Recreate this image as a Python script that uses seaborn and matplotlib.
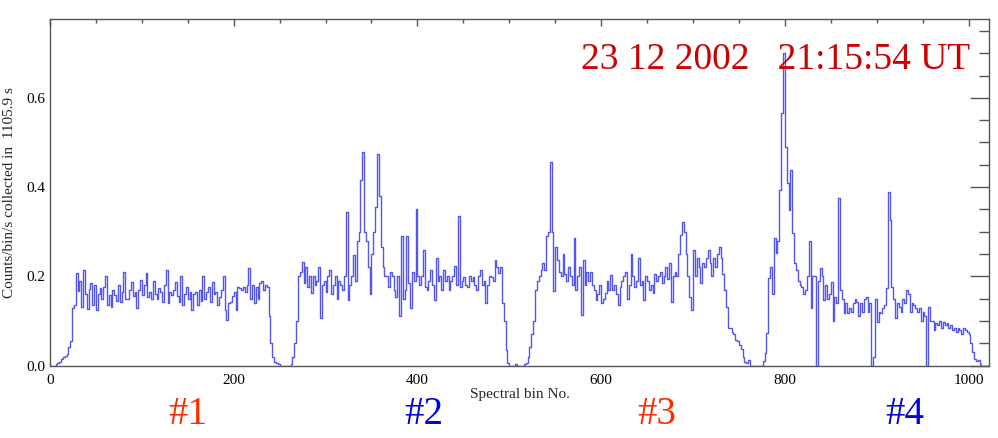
import numpy as np
import pandas as pd
import matplotlib
matplotlib.use("Agg")
import matplotlib.pyplot as plt
from matplotlib.ticker import MultipleLocator, FormatStrFormatter
import seaborn as sns

# counts/bin/s, one value per 2 spectral bins
# channel #1 : bins 0 - 250
ch1 = [0, 0, 0, .003, .006, .008, .015, .02, .022, .026, .042, .055, .13, .135,
       .207, .167, .19, .132, .215, .16, .127, .172, .186, .136, .18, .124, .16, .173, .15, .177,
       .2, .136, .158, .132, .17, .158, .145, .18, .143, .165, .21, .15, .15, .17, .188, .155,
       .165, .13, .17, .192, .158, .18, .207, .154, .165, .15, .19, .16, .15, .173, .165, .143,
       .18, .214, .14, .165, .158, .17, .188, .155, .143, .2, .136, .16, .177, .15, .165, .124,
       .16, .165, .136, .17, .145, .2, .15, .165, .177, .143, .188, .16, .165, .136, .154, .17,
       .2, .124, .102, .14, .143, .155, .165, .124, .177, .173, .17, .175, .165, .18, .218, .15,
       .18, .14, .175, .15, .185, .19, .17, .18,
       .177, .11, .05, .02, .008, .005, .003, 0]
# channel #2 : bins 252 - 510
ch2 = [0, 0, 0, 0, 0, .003, .02, .05, .1, .2,
       .21, .233, .185, .22, .177, .2, .162, .2, .18, .19, .22, .106, .18, .19, .165, .2, .214,
       .16, .18, .2, .15, .19, .18, .17, .2,
       .345, .147, .18, .2, .248, .19, .28, .3, .416, .479, .3, .28, .22, .16, .25, .3, .356,
       .474, .38, .266, .22, .2,
       .2, .177, .21, .2, .17, .154, .2, .11, .29, .15, .17, .29, .184, .13, .21, .19, .35, .2,
       .18, .2, .26, .175, .17, .19, .214, .18, .147, .24, .19, .2, .17, .214, .19, .2, .169,
       .19, .2, .222, .18, .335, .177, .19, .199, .18, .177, .2, .19, .199, .18, .169, .2,
       .214, .18, .19, .14, .18, .2, .199, .19, .236, .22, .207, .22,
       .14, .1, .035, .005, 0, 0, 0, .003, 0, 0]
# channel #3 : bins 512 - 772
ch3 = [0, 0, .003, .005, .02, .042, .07, .1, .17, .19, .2, .215, .23,
       .215, .29, .3, .457, .3, .166, .266, .236, .21, .2, .251, .206,
       .19, .22, .2, .18, .285, .169, .2, .22, .113, .236, .18, .21, .19, .209, .18, .17, .147,
       .16, .18, .139, .15, .162, .19, .17, .203, .17, .18, .16, .136, .175, .19, .2, .21, .15,
       .18, .25, .2, .177, .19, .24, .18, .19, .147, .2, .19, .17, .18, .162, .206, .19, .2,
       .21, .185, .2, .22, .195, .229, .143, .2, .21,
       .2, .25, .293, .322, .3, .251, .2, .154, .124, .259, .2, .24, .22, .184, .23, .22, .24,
       .259, .23, .2, .24, .22, .25, .266, .24, .206, .17, .132, .083, .085, .075, .07, .057,
       .055, .045, .038, .02, .008, .005, .012, 0, 0, 0, 0, 0, 0]
# channel #4 : bins 774 - 1022
ch4 = [0, .01, .028, .073, .196, .22, .16, .286, .252, .28, .393, .566, .7, .49, .408, .349,
       .438, .297, .23, .214, .19, .18, .177, .16, .17, .2, .28, .13, .2, .2, 0, .19, .218, .2,
       .147, .18, .15, .16, .188, .1, .154, .14, .375, .17, .15, .117, .14, .117, .13, .12, .14,
       .15, .143, .11, .14, .12, .15, .154, .12, .14, 0, .02, .15, .098, .12, .117, .13, .135,
       .173, .39, .326, .177, .15, .106, .14, .132, .12, .15, .14, .17, .16, .12, .14, .135,
       .13, .12, .13, .1, .12, .11, 0, .132, .1, .1, .08, .095, .09, .1, .085, .098, .09, .095,
       .085, .09, .08, .085, .075, .085, .08, .07, .085, .08, .075, .07, .05, .031, .015, .01,
       .012, .003, 0, 0, 0, 0, 0]

counts = ch1 + ch2 + ch3 + ch4
bins = np.arange(len(counts)) * 2

channel_names = ["#1", "#2", "#3", "#4"]
channel_pos = [150, 407, 660, 930]
channel_colors = ["#ff2a00", "#0000e0", "#ff2a00", "#0000e0"]
stamp = "23 12 2002   21:15:54 UT"

df = pd.DataFrame({"bin": bins, "counts": counts})

sns.set_theme(style="white")
plt.rcParams["font.family"] = ["Liberation Serif", "DejaVu Serif"]

fig = plt.figure(figsize=(9.98, 4.38), dpi=100)
ax = fig.add_axes([0.0501, 0.1655, 0.9412, 0.7904])

sns.lineplot(data=df, x="bin", y="counts", drawstyle="steps-post",
             color="#5555f0", lw=1.0, ax=ax)

ax.set_xlim(0, 1022.6)
ax.set_ylim(0, 0.776)
ax.xaxis.set_major_locator(MultipleLocator(200))
ax.xaxis.set_minor_locator(MultipleLocator(50))
ax.yaxis.set_major_locator(MultipleLocator(0.2))
ax.yaxis.set_minor_locator(MultipleLocator(0.05))
ax.yaxis.set_major_formatter(FormatStrFormatter("%.1f"))

ax.tick_params(which="both", direction="in", top=True, right=True, colors="#555555",
               labelcolor="black", labelsize=11, width=1)
ax.tick_params(axis="y", which="major", length=13.7, pad=3)
ax.tick_params(axis="y", which="minor", length=7)
ax.tick_params(axis="x", which="major", length=5, pad=6)
ax.tick_params(axis="x", which="minor", length=3)
for s in ax.spines.values():
    s.set_color("#555555")
    s.set_linewidth(1)

ax.set_xlabel("Spectral bin No.", fontsize=11, labelpad=1)
ax.set_ylabel("")
fig.text(0.010, 0.560, "Counts/bin/s collected in  1105.9 s", rotation=90,
         ha="center", va="center", fontsize=11)

fig.text(0.972, 0.842, stamp, ha="right", va="baseline",
         fontsize=27, color="#cc0000")

for name, pos, c in zip(channel_names, channel_pos, channel_colors):
    ax.annotate(name, xy=(pos, 0), xycoords=("data", "figure fraction"),
                xytext=(0, 10), textcoords="offset points",
                ha="center", va="baseline", fontsize=28, color=c)

fig.savefig("out.png", dpi=100)
